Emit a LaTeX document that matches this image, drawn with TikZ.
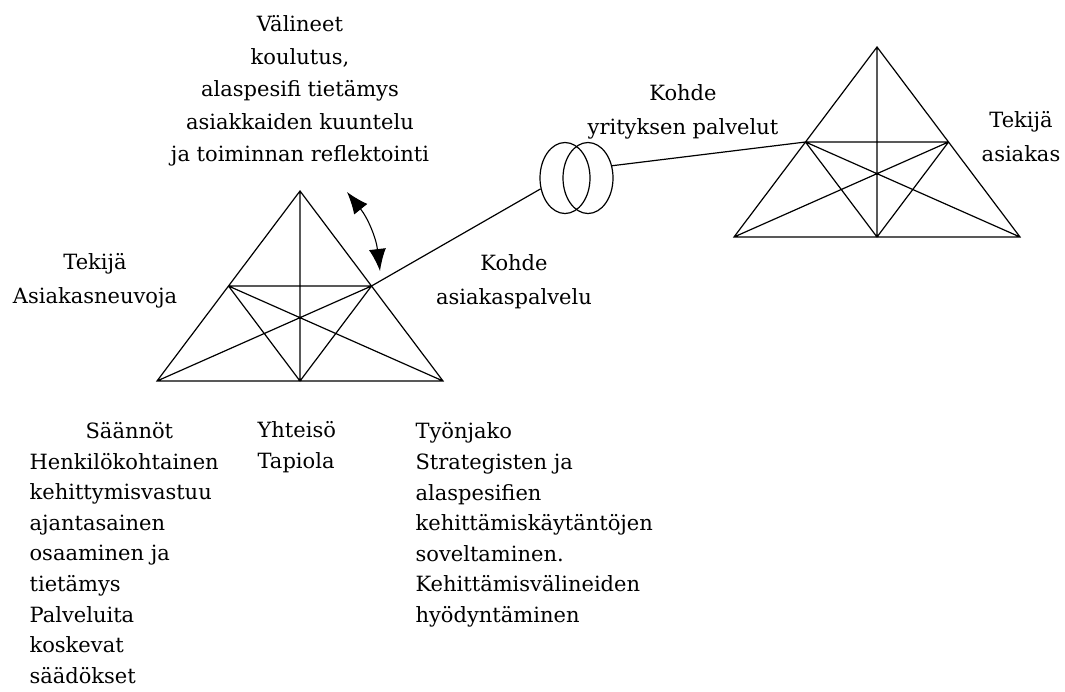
\documentclass[tikz,border=0pt]{standalone}
\usepackage{fontspec}
\setmainfont{DejaVu Serif}
\usetikzlibrary{arrows.meta,calc,shapes.geometric}

\begin{document}
\begin{tikzpicture}[x=1pt,y=-1pt,line width=1.2pt,
  lbl/.style={inner sep=0pt,align=center,font=\fontsize{21}{34}\selectfont},
  col/.style={inner sep=0pt,align=left,anchor=west,font=\fontsize{21}{30.6}\selectfont},
  ring/.style={draw,ellipse,inner sep=0pt,minimum width=50pt,minimum height=71pt}]
\useasboundingbox (0,0) rectangle (1065,691);
\foreach \t/\tx/\ty in {a/300/191,b/877/47}{
\coordinate (\t-top) at (\tx,\ty);\coordinate (\t-bl) at (\tx-143,\ty+190);\coordinate (\t-br) at (\tx+143,\ty+190);\coordinate (\t-bm) at (\tx,\ty+190);
\coordinate (\t-p) at ($(\t-top)!.5!(\t-bl)$);\coordinate (\t-q) at ($(\t-top)!.5!(\t-br)$);
\draw (\t-top)--(\t-bl)--(\t-br)--cycle (\t-top)--(\t-bm) (\t-p)--(\t-q) (\t-p)--(\t-br) (\t-q)--(\t-bl) (\t-p)--(\t-bm)--(\t-q);}
\node[ring] (ring-a) at (565,178) {};
\node[ring] (ring-b) at (588,178) {};
\draw (a-q)--(ring-a.204) (ring-b.27)--(b-p);
\coordinate (arr-s) at (347,192);\coordinate (arr-e) at (380,271);
\draw[{Latex[length=22pt,width=17pt]}-{Latex[length=22pt,width=17pt]},line width=1.1pt] (arr-s) to[bend left=16] (arr-e);
\node[lbl,font=\fontsize{21}{32.5}\selectfont] (valineet) at (300,91) {Välineet\\koulutus,\\alaspesifi tietämys\\asiakkaiden kuuntelu\\ja toiminnan reflektointi};
\node[lbl] (tekija-a) at (95,281) {Tekijä\\Asiakasneuvoja};
\node[lbl] (kohde-a) at (514,282) {Kohde\\asiakaspalvelu};
\node[lbl] (kohde-b) at (683,112) {Kohde\\yrityksen palvelut};
\node[lbl] (tekija-b) at (1021,137) {Tekijä\\asiakas};
\node[col] (saannot) at (29,553) {\hspace*{56pt}Säännöt\\Henkilökohtainen\\kehittymisvastuu\\ajantasainen\\osaaminen ja\\tietämys\\Palveluita\\koskevat\\säädökset};
\node[col] (yhteiso) at (257,447) {Yhteisö\\Tapiola};
\node[col] (tyonjako) at (415,525) {Työnjako\\Strategisten ja\\alaspesifien\\kehittämiskäytäntöjen\\soveltaminen.\\Kehittämisvälineiden\\hyödyntäminen};
\end{tikzpicture}
\end{document}
